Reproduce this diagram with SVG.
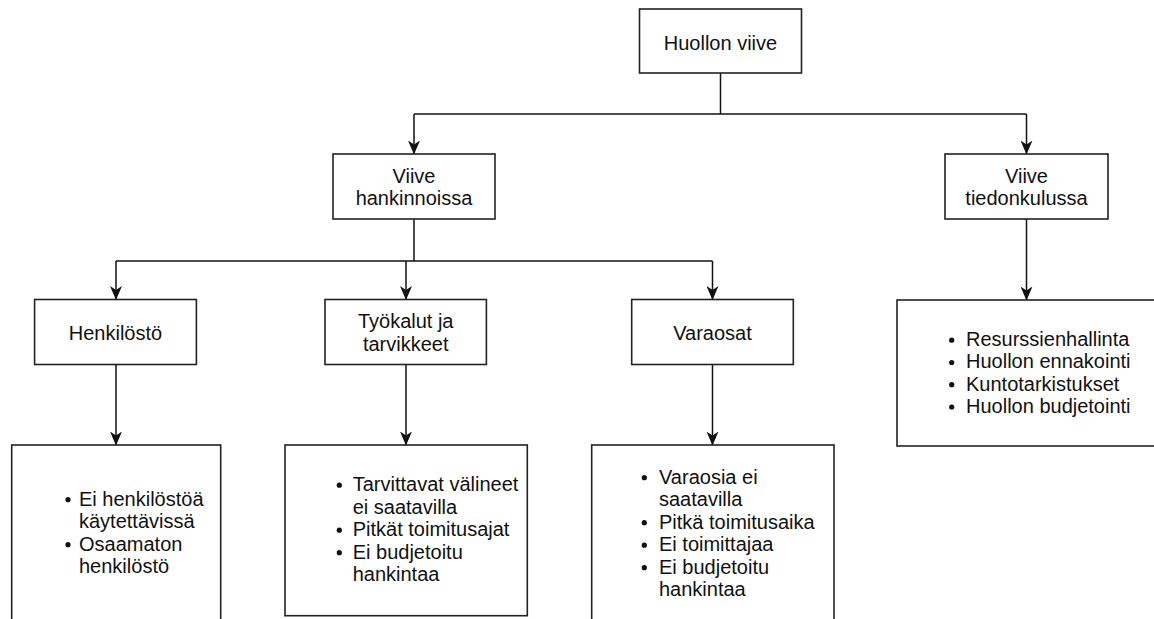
<svg xmlns="http://www.w3.org/2000/svg" width="1154" height="619" viewBox="0 0 1154 619">
  <style>
    .box { fill: #ffffff; stroke: #222222; stroke-width: 1.6; }
    .edge { fill: none; stroke: #111111; stroke-width: 1.5; }
    .lbl { font-family: "Liberation Sans", Arial, sans-serif; font-size: 20px; fill: #111111; }
    .mid { text-anchor: middle; }
    .dot { fill: #111111; }
  </style>
  <defs>
    <marker id="arrow" viewBox="0 0 14 12" refX="13.5" refY="6" markerWidth="14" markerHeight="12" orient="auto" markerUnits="userSpaceOnUse">
      <path d="M0,0 L14,6 L0,12 L4,6 Z" fill="#111111"/>
    </marker>
  </defs>
  <rect width="1154" height="619" fill="#ffffff"/>

  <!-- connectors -->
  <g id="connectors">
    <path class="edge" d="M720.5,73 V114"/>
    <path class="edge" d="M414,114 H1026.5"/>
    <path class="edge" d="M414,114 V154" marker-end="url(#arrow)"/>
    <path class="edge" d="M1026.5,114 V154" marker-end="url(#arrow)"/>
    <path class="edge" d="M414,219 V261"/>
    <path class="edge" d="M116,261 H712.5"/>
    <path class="edge" d="M116,261 V299.5" marker-end="url(#arrow)"/>
    <path class="edge" d="M406,261 V299.5" marker-end="url(#arrow)"/>
    <path class="edge" d="M712.5,261 V299.5" marker-end="url(#arrow)"/>
    <path class="edge" d="M116,364.5 V445" marker-end="url(#arrow)"/>
    <path class="edge" d="M406,364.5 V445" marker-end="url(#arrow)"/>
    <path class="edge" d="M712.5,364.5 V445" marker-end="url(#arrow)"/>
    <path class="edge" d="M1026.5,219 V300" marker-end="url(#arrow)"/>
  </g>

  <g id="huollon-viive">
    <rect class="box" x="639.5" y="9" width="162" height="64"/>
    <text class="lbl mid" x="720.5" y="50">Huollon viive</text>
  </g>

  <g id="viive-hankinnoissa">
    <rect class="box" x="333" y="154" width="162" height="65"/>
    <text class="lbl mid" x="414" y="182.5">Viive</text>
    <text class="lbl mid" x="414" y="205">hankinnoissa</text>
  </g>

  <g id="viive-tiedonkulussa">
    <rect class="box" x="945" y="154" width="163" height="65"/>
    <text class="lbl mid" x="1026.5" y="182.5">Viive</text>
    <text class="lbl mid" x="1026.5" y="205">tiedonkulussa</text>
  </g>

  <g id="henkilosto">
    <rect class="box" x="34.6" y="299.5" width="161.8" height="65"/>
    <text class="lbl mid" x="115.5" y="339.5">Henkilöstö</text>
  </g>

  <g id="tyokalut">
    <rect class="box" x="325" y="299.5" width="161.4" height="65"/>
    <text class="lbl mid" x="405.7" y="327.5">Työkalut ja</text>
    <text class="lbl mid" x="405.7" y="350.5">tarvikkeet</text>
  </g>

  <g id="varaosat">
    <rect class="box" x="631.7" y="299.5" width="161.6" height="65"/>
    <text class="lbl mid" x="712.5" y="339.5">Varaosat</text>
  </g>

  <g id="henkilosto-syyt">
    <rect class="box" x="11.7" y="445" width="209" height="200"/>
    <circle class="dot" cx="68" cy="499.7" r="2.6"/>
    <text class="lbl" x="79" y="505.5">Ei henkilöstöä</text>
    <text class="lbl" x="79" y="528">käytettävissä</text>
    <circle class="dot" cx="68" cy="544.7" r="2.6"/>
    <text class="lbl" x="79" y="550.5">Osaamaton</text>
    <text class="lbl" x="79" y="573">henkilöstö</text>
  </g>

  <g id="tyokalut-syyt">
    <rect class="box" x="285" y="445" width="242.3" height="170.7"/>
    <circle class="dot" cx="339.3" cy="485.2" r="2.6"/>
    <text class="lbl" x="352.7" y="491">Tarvittavat välineet</text>
    <text class="lbl" x="352.7" y="513.5">ei saatavilla</text>
    <circle class="dot" cx="339.3" cy="530.2" r="2.6"/>
    <text class="lbl" x="352.7" y="536">Pitkät toimitusajat</text>
    <circle class="dot" cx="339.3" cy="552.7" r="2.6"/>
    <text class="lbl" x="352.7" y="558.5">Ei budjetoitu</text>
    <text class="lbl" x="352.7" y="581">hankintaa</text>
  </g>

  <g id="varaosat-syyt">
    <rect class="box" x="591.7" y="445" width="242.3" height="200"/>
    <circle class="dot" cx="644.3" cy="477.7" r="2.6"/>
    <text class="lbl" x="659" y="483.5">Varaosia ei</text>
    <text class="lbl" x="659" y="506">saatavilla</text>
    <circle class="dot" cx="644.3" cy="522.7" r="2.6"/>
    <text class="lbl" x="659" y="528.5">Pitkä toimitusaika</text>
    <circle class="dot" cx="644.3" cy="545.2" r="2.6"/>
    <text class="lbl" x="659" y="551">Ei toimittajaa</text>
    <circle class="dot" cx="644.3" cy="567.7" r="2.6"/>
    <text class="lbl" x="659" y="573.5">Ei budjetoitu</text>
    <text class="lbl" x="659" y="596">hankintaa</text>
  </g>

  <g id="tiedonkulku-syyt">
    <rect class="box" x="897" y="300" width="270" height="146"/>
    <circle class="dot" cx="951.7" cy="340.2" r="2.6"/>
    <text class="lbl" x="966" y="346">Resurssienhallinta</text>
    <circle class="dot" cx="951.7" cy="362.5" r="2.6"/>
    <text class="lbl" x="966" y="368.3">Huollon ennakointi</text>
    <circle class="dot" cx="951.7" cy="384.7" r="2.6"/>
    <text class="lbl" x="966" y="390.5">Kuntotarkistukset</text>
    <circle class="dot" cx="951.7" cy="407" r="2.6"/>
    <text class="lbl" x="966" y="412.8">Huollon budjetointi</text>
  </g>
</svg>
